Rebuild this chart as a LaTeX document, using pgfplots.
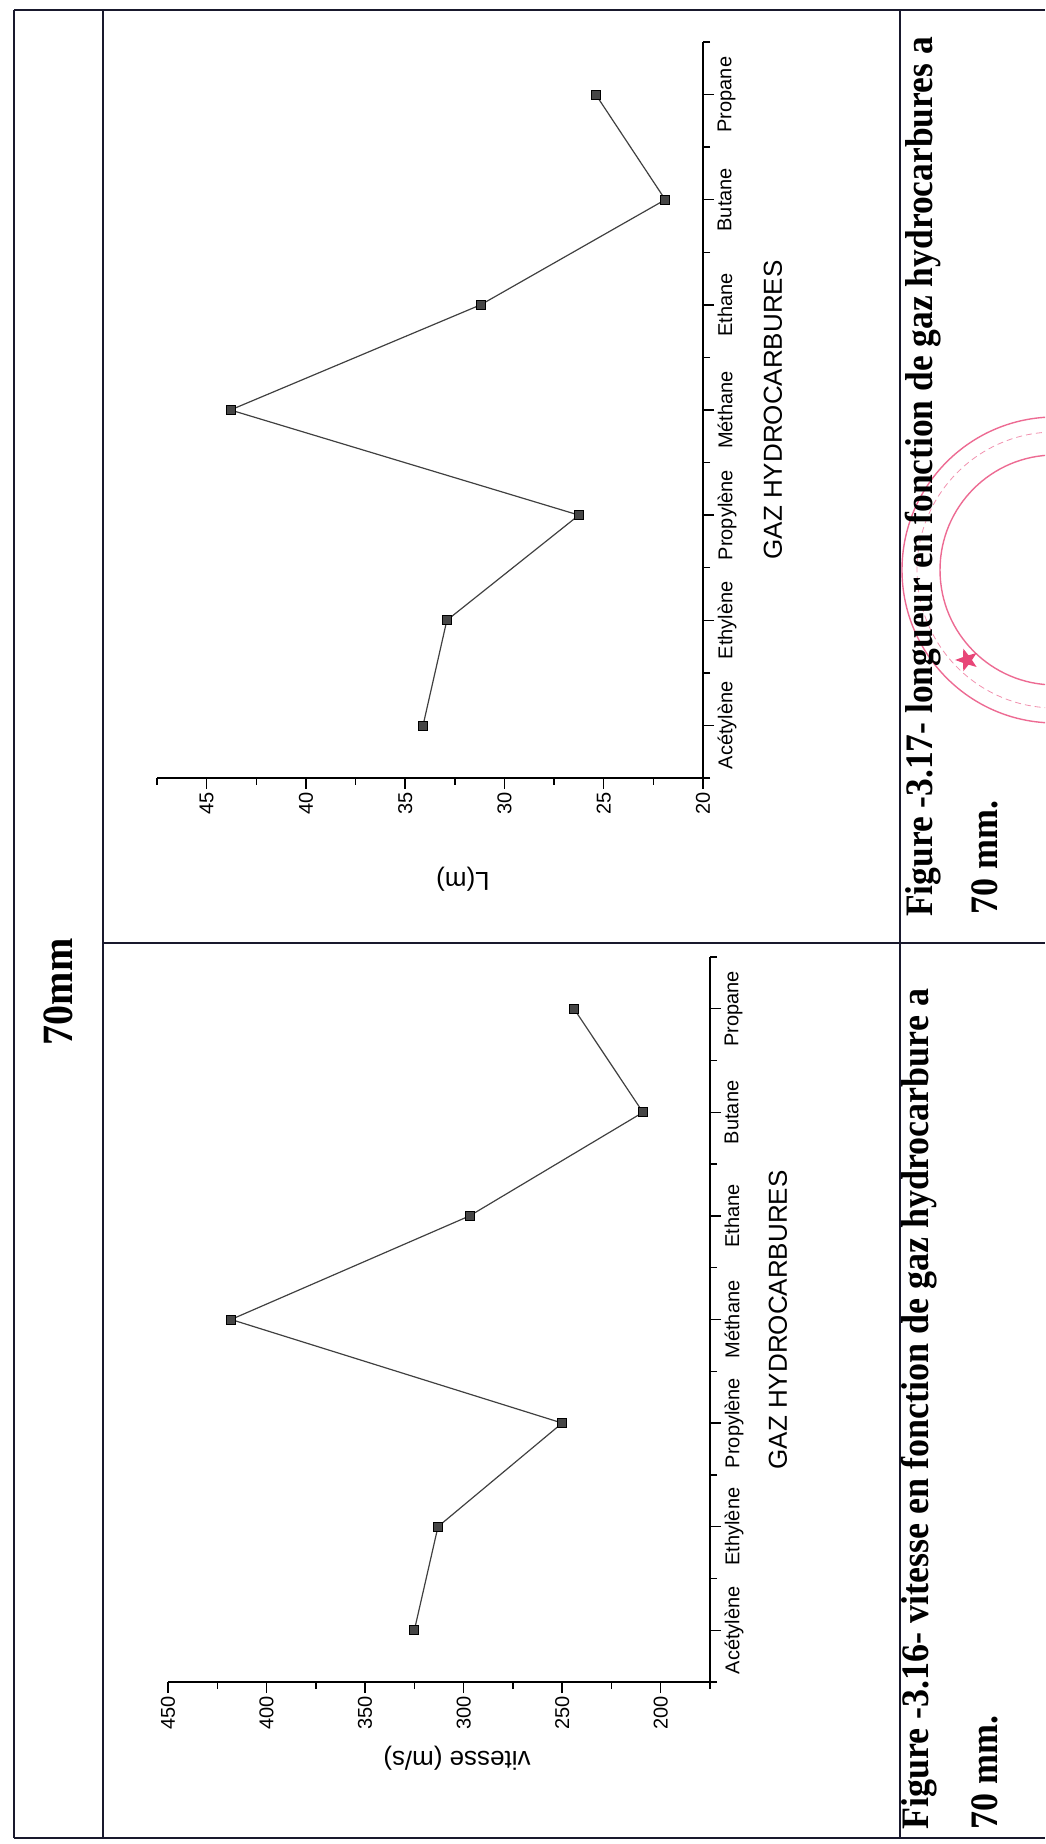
\documentclass[border=0pt]{standalone}
\usepackage{pgfplots}
\usepackage{pgfplotstable}
\pgfplotsset{compat=1.18}
\usepackage{fontspec}
\setmainfont{Liberation Sans}
\newfontfamily\capfont{Liberation Serif}
\usetikzlibrary{shapes.geometric}

\definecolor{framecol}{RGB}{25,25,45}
\definecolor{stampcol}{RGB}{232,70,120}
\definecolor{markfill}{RGB}{70,70,70}

% gas index: 0 Acetylene, 1 Ethylene, 2 Propylene, 3 Methane, 4 Ethane, 5 Butane, 6 Propane
\pgfplotstableread{
cat v
0 325
1 313
2 250
3 418
4 297
5 209
6 244
}\vitessedata

\pgfplotstableread{
cat L
0 34.1
1 32.9
2 26.25
3 43.8
4 31.2
5 21.9
6 25.4
}\longueurdata

\pgfplotsset{
  gazaxis/.style={
    scale only axis, anchor=south west,
    x dir=reverse,
    ymin=-0.5, ymax=6.5,
    axis x line*=bottom, axis y line*=right,
    axis line style={-, line width=1.6pt, black},
    ytick={0,1,2,3,4,5,6},
    minor ytick={-0.5,0.5,1.5,2.5,3.5,4.5,5.5,6.5},
    yticklabels={Acétylène,Ethylène,Propylène,Méthane,Ethane,Butane,Propane},
    tick align=outside,
    major tick length=11pt, minor tick length=7pt,
    every tick/.append style={black, line width=1.4pt},
    every minor tick/.append style={black, line width=1.4pt},
    tick label style={font=\fontsize{20}{24}\selectfont},
    /pgf/number format/assume math mode=true,
    xticklabel style={rotate=90, anchor=east},
    yticklabel style={rotate=90, anchor=north},
    clip=false,
  },
  gazline/.style={color=black!75, line width=1.2pt, mark=square*, mark size=4.5pt,
    mark options={fill=markfill, draw=black, line width=0.8pt, solid}},
}

\newcommand\tall[1]{\scalebox{1}[1.08]{#1}}

\begin{document}
\begin{tikzpicture}
\useasboundingbox (0pt,0pt) rectangle (1045pt,1844pt);

% stamp, partly off the page
\begin{scope}
  \clip (0pt,0pt) rectangle (1045pt,1844pt);
  \draw[stampcol, line width=1.4pt, opacity=0.8] (1055pt,1274pt) circle (153pt);
  \draw[stampcol, line width=0.8pt, opacity=0.6, dash pattern=on 6pt off 4pt] (1055pt,1274pt) circle (138pt);
  \draw[stampcol, line width=1.4pt, opacity=0.8] (1055pt,1274pt) circle (115pt);
  \node[star, star points=5, star point ratio=2.4, fill=stampcol, inner sep=3.5pt, rotate=90] at (967pt,1184pt) {};
\end{scope}

% table frame
\draw[framecol, line width=2.4pt]
  (14pt,6pt) -- (14pt,1834pt)
  (14pt,1834pt) -- (1045pt,1834pt)
  (14pt,6pt) -- (1045pt,6pt)
  (103pt,6pt) -- (103pt,1834pt)
  (103pt,901pt) -- (1045pt,901pt)
  (900pt,6pt) -- (900pt,1834pt);

% heading
\node[rotate=90, font=\capfont\bfseries\fontsize{40}{44}\selectfont] at (58pt,852pt) {\tall{70mm}};

% velocity
\begin{axis}[gazaxis, at={(168pt,162pt)}, width=542pt, height=725pt,
  xmin=175, xmax=450,
  xtick={200,250,300,350,400,450}, minor xtick={175,225,275,325,375,425}]
\addplot[gazline] table[x=v, y=cat] {\vitessedata};
\end{axis}
\node[rotate=180, font=\fontsize{26}{30}\selectfont] at (457pt,86pt) {vitesse (m/s)};
\node[rotate=90, font=\fontsize{26}{30}\selectfont] at (778pt,524pt) {GAZ HYDROCARBURES};

% length
\begin{axis}[gazaxis, at={(157pt,1066pt)}, width=546pt, height=736pt,
  xmin=20, xmax=47.5,
  xtick={20,25,30,35,40,45}, minor xtick={22.5,27.5,32.5,37.5,42.5,47.5}]
\addplot[gazline] table[x=L, y=cat] {\longueurdata};
\end{axis}
\node[rotate=180, font=\fontsize{26}{30}\selectfont] at (463pt,965pt) {L(m)};
\node[rotate=90, font=\fontsize{26}{30}\selectfont] at (773pt,1434pt) {GAZ HYDROCARBURES};

% captions
\begin{scope}[every node/.style={rotate=90, anchor=base west, inner sep=0pt,
    font=\capfont\bfseries\fontsize{36}{40}\selectfont}]
  \node at (928pt,14pt) {\tall{Figure -3.16- vitesse en fonction de gaz hydrocarbure a}};
  \node at (997pt,14pt) {\tall{70 mm.}};
  \node at (932pt,927pt) {\tall{\scalebox{0.985}[1]{Figure -3.17- longueur en fonction de gaz hydrocarbures a}}};
  \node at (997pt,929pt) {\tall{70 mm.}};
\end{scope}
\end{tikzpicture}
\end{document}
